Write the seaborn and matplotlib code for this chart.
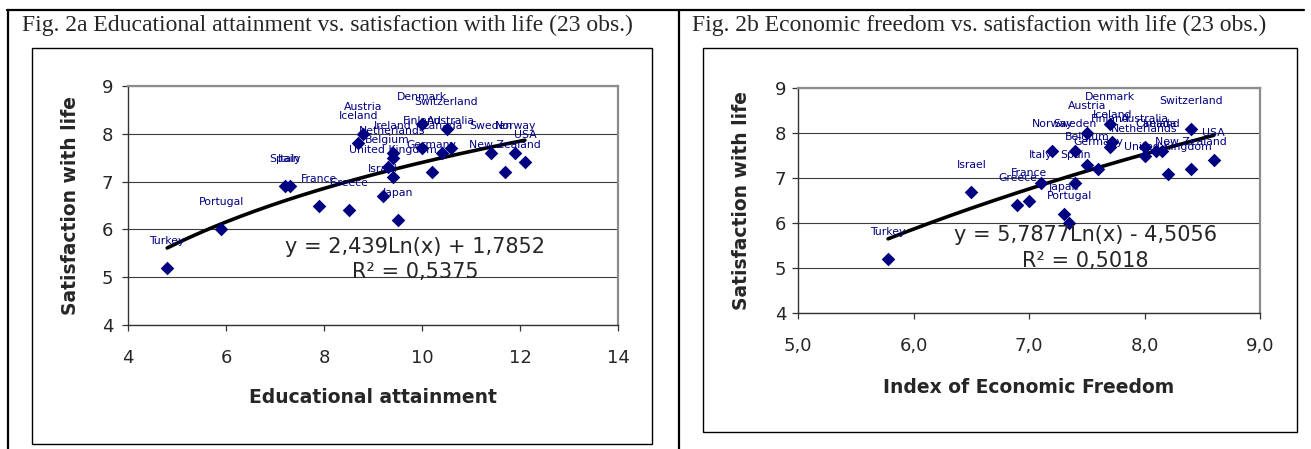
import numpy as np
import pandas as pd
import matplotlib
matplotlib.use("Agg")
import matplotlib.pyplot as plt
import seaborn as sns
from matplotlib.patches import Rectangle
from matplotlib.lines import Line2D
from matplotlib.ticker import FuncFormatter

# ---- data -------------------------------------------------------------
countries = ["Turkey", "Portugal", "Spain", "Italy", "France", "Greece", "Israel",
             "Japan", "Austria", "Iceland", "Ireland", "Netherlands", "Belgium",
             "United Kingdom", "Denmark", "Switzerland", "Finland", "Australia",
             "Canada", "Germany", "Sweden", "Norway", "USA", "New Zealand"]
life_satisfaction = [5.2, 6.0, 6.9, 6.9, 6.5, 6.4, 6.7, 6.2, 8.0, 7.8, 7.6, 7.5,
                     7.3, 7.1, 8.2, 8.1, 7.7, 7.7, 7.6, 7.2, 7.6, 7.6, 7.4, 7.2]
education = [4.8, 5.9, 7.2, 7.3, 7.9, 8.5, 9.2, 9.5, 8.8, 8.7, 9.4, 9.4,
             9.3, 9.4, 10.0, 10.5, 10.0, 10.6, 10.4, 10.2, 11.4, 11.9, 12.1, 11.7]
econ_freedom = [5.78, 7.35, 7.4, 7.1, 7.0, 6.9, 6.5, 7.3, 7.5, 7.72, 8.15, 8.0,
                7.5, 8.2, 7.7, 8.4, 7.7, 8.0, 8.1, 7.6, 7.4, 7.2, 8.6, 8.4]

# logarithmic trend lines y = a*ln(x) + b and their R^2
edu_fit = [2.439, 1.7852]
edu_r2 = 0.5375
freedom_fit = [5.7877, -4.5056]
freedom_r2 = 0.5018

df = pd.DataFrame({"country": countries, "satisfaction": life_satisfaction,
                   "education": education, "freedom": econ_freedom})

# ---- style ------------------------------------------------------------
sns.set_style("white")
plt.rcParams["font.family"] = ["DejaVu Sans"]

W, H = 1311, 449
fig = plt.figure(figsize=(W / 100, H / 100), dpi=100)
fig.patch.set_facecolor("white")

NAVY = "#000080"


def px_rect(x0, y0, x1, y1):
    """Figure-fraction rectangle from pixel corners (origin top-left)."""
    return [x0 / W, 1 - y1 / H, (x1 - x0) / W, (y1 - y0) / H]


def comma(v, fmt="{:g}"):
    return fmt.format(v).replace(".", ",")


def eq_text(a, b):
    sign = "+" if b >= 0 else "-"
    return f"y = {comma(a)}Ln(x) {sign} {comma(abs(b))}"


def draw_panel(ax, xcol, fit, r2, xlim, xticks, xfmt, xlabel, eq_xy, r2_xy,
               ylab_x, xlab_y, ypad):
    sns.scatterplot(data=df, x=xcol, y="satisfaction", ax=ax, marker="D", s=48,
                    color=NAVY, edgecolor=NAVY, linewidth=0, zorder=3)
    xs = np.linspace(df[xcol].min(), df[xcol].max(), 200)
    ys = fit[0] * np.log(xs) + fit[1]
    sns.lineplot(x=xs, y=ys, ax=ax, color="black", linewidth=2.6,
                 estimator=None, sort=False, zorder=2)
    for name, xv, yv in zip(df["country"], df[xcol], df["satisfaction"]):
        ax.annotate(name, (xv, yv), xytext=(0, 27), textcoords="offset pixels",
                    ha="center", va="center", color=NAVY, fontsize=7.8, zorder=4)

    ax.set_xlim(*xlim)
    ax.set_ylim(4, 9)
    ax.set_xticks(xticks)
    ax.set_yticks([4, 5, 6, 7, 8, 9])
    ax.xaxis.set_major_formatter(FuncFormatter(xfmt))
    ax.set_axisbelow(True)
    ax.yaxis.grid(True, color="#3c3c3c", linewidth=0.8)
    ax.xaxis.grid(False)

    for side in ("left", "bottom"):
        ax.spines[side].set_color("#333333")
        ax.spines[side].set_linewidth(1.0)
    for side in ("top", "right"):
        ax.spines[side].set_color("#8c8c8c")
        ax.spines[side].set_linewidth(1.6)

    ax.tick_params(axis="x", direction="out", length=4.5, width=0.9,
                   color="#333333", labelsize=13, pad=13)
    ax.tick_params(axis="y", direction="out", length=4.5, width=0.9,
                   color="#333333", labelsize=13, pad=ypad)
    ax.tick_params(bottom=True, left=True)

    ax.set_xlabel(xlabel, fontsize=13.5, fontweight="bold")
    ax.set_ylabel("Satisfaction with life", fontsize=13.5, fontweight="bold")
    ax.xaxis.set_label_coords(0.5, xlab_y)
    ax.yaxis.set_label_coords(ylab_x, 0.5)

    ax.text(*eq_xy, eq_text(*fit), ha="center", va="center", fontsize=15, zorder=5)
    ax.text(*r2_xy, "R² = " + comma(r2), ha="center", va="center", fontsize=15,
            zorder=5)


# ---- left panel: educational attainment -------------------------------
ax1 = fig.add_axes(px_rect(128, 86, 618, 325))
draw_panel(ax1, "education", edu_fit, edu_r2, (4, 14), [4, 6, 8, 10, 12, 14],
           lambda v, p: f"{v:g}", "Educational attainment",
           (9.86, 5.63), (9.86, 5.11), -0.098, -0.265, 6)

# ---- right panel: economic freedom ------------------------------------
ax2 = fig.add_axes(px_rect(798, 88, 1260, 313))
draw_panel(ax2, "freedom", freedom_fit, freedom_r2, (5, 9), [5, 6, 7, 8, 9],
           lambda v, p: comma(v, "{:.1f}"), "Index of Economic Freedom",
           (7.49, 5.73), (7.49, 5.16), -0.102, -0.29, 4)

# ---- chart boxes and surrounding table --------------------------------
for x0, y0, x1, y1 in [(32, 48, 652, 444), (703, 48, 1297, 432)]:
    fig.add_artist(Rectangle((x0 / W, 1 - y1 / H), (x1 - x0) / W, (y1 - y0) / H,
                             transform=fig.transFigure, fill=False,
                             edgecolor="black", linewidth=1.0, zorder=0))

for (xa, ya), (xb, yb) in [((7, 10), (1304, 10)), ((7.5, 10), (7.5, H)),
                           ((679, 10), (679, H))]:
    fig.add_artist(Line2D([xa / W, xb / W], [1 - ya / H, 1 - yb / H],
                          transform=fig.transFigure, color="black", linewidth=1.6))

# ---- panel titles -----------------------------------------------------
fig.text(22 / W, 1 - 25 / H,
         "Fig. 2a Educational attainment vs. satisfaction with life (23 obs.)",
         family="Liberation Serif", fontsize=17, ha="left", va="center")
fig.text(692 / W, 1 - 25 / H,
         "Fig. 2b Economic freedom vs. satisfaction with life (23 obs.)",
         family="Liberation Serif", fontsize=17, ha="left", va="center")

fig.savefig("out.png", dpi=100, facecolor="white")
